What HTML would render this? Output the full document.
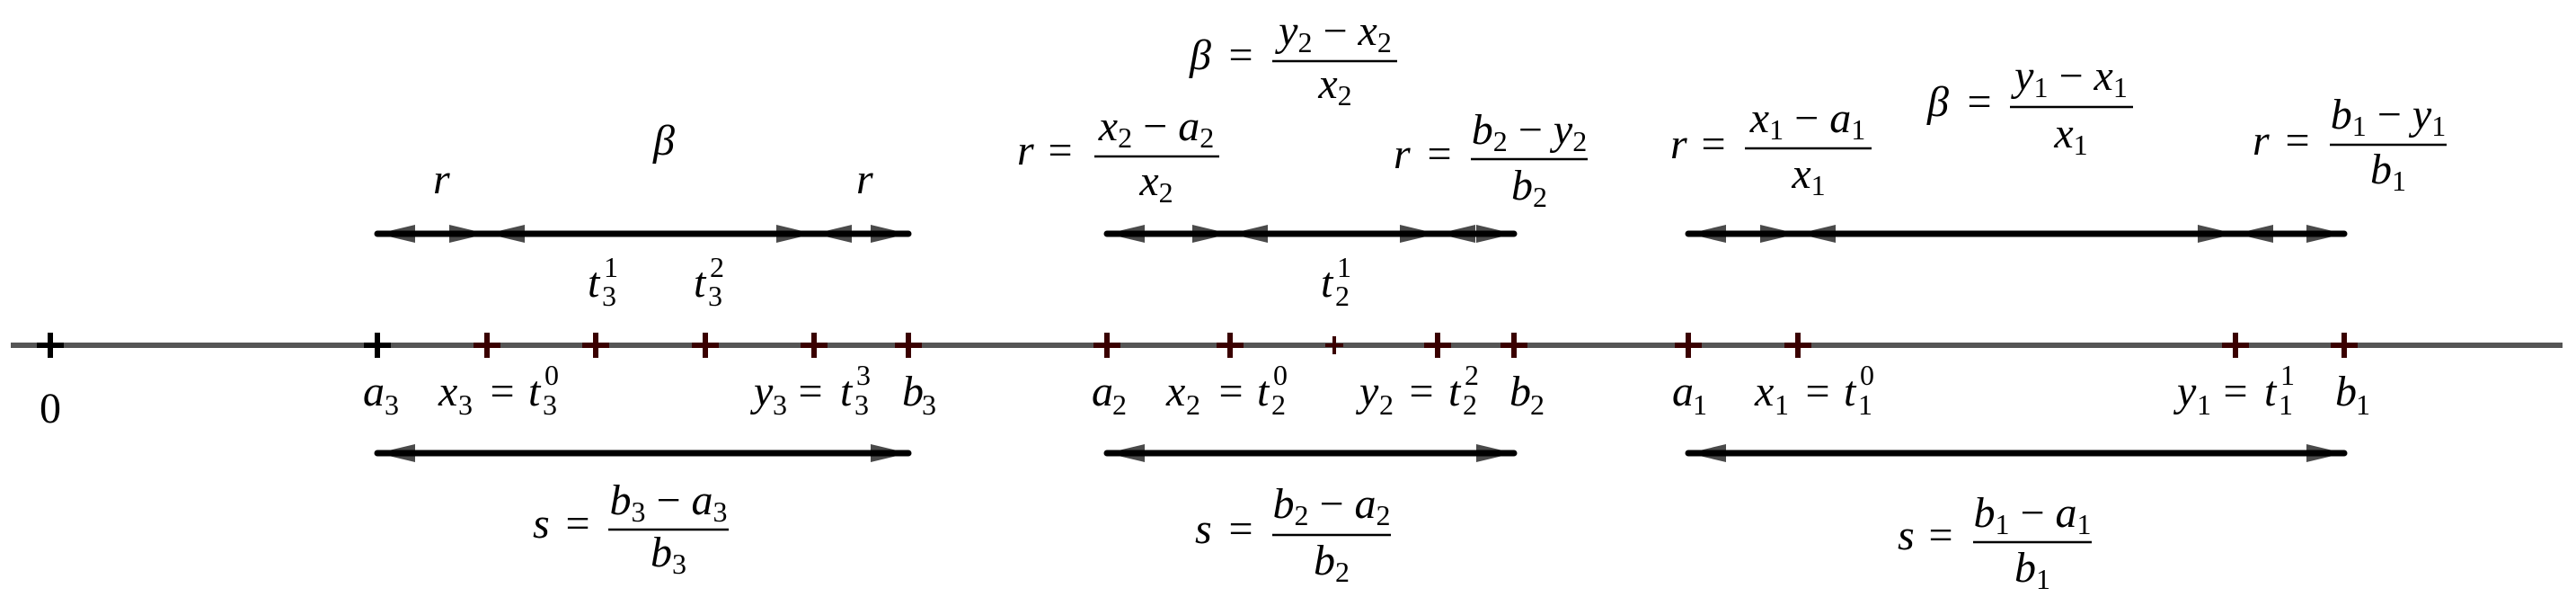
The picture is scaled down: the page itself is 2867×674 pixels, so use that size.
<!DOCTYPE html>
<html><head><meta charset="utf-8"><style>
html,body{margin:0;padding:0;background:#fff}
svg{display:block}
text,tspan{font-family:"Liberation Serif","DejaVu Serif",serif;fill:#000}
.i{font-family:"Liberation Serif","DejaVu Serif",serif;font-style:italic;font-size:48px}
.n{font-family:"Liberation Serif","DejaVu Serif",serif;font-style:normal;font-size:48px}
.s{font-family:"Liberation Serif","DejaVu Serif",serif;font-style:normal;font-size:32px}
.h{fill:#4a4a4a}
.l{stroke:#000;stroke-width:7;stroke-linecap:round}
.tk{stroke:#3a0000;stroke-width:6}
</style></head><body>
<svg width="2867" height="674" viewBox="0 0 2867 674" xmlns="http://www.w3.org/2000/svg">
<line x1="12" y1="384" x2="2852" y2="384" stroke="#555" stroke-width="6"/>
<g stroke="#000" stroke-width="6"><path d="M41 384h30M56 370v28M405 384h30M420 370v28"/></g>
<g class="tk"><path d="M527 384h30M542 370v28M648 384h30M663 370v28M770 384h30M785 370v28M891 384h30M906 370v28M996 384h30M1011 370v28M1217 384h30M1232 370v28M1354 384h30M1369 370v28M1585 384h30M1600 370v28M1670 384h30M1685 370v28M1864 384h30M1879 370v28M1986 384h30M2001 370v28M2473 384h30M2488 370v28M2594 384h30M2609 370v28"/></g>
<path d="M1475 384h20M1485 374v20" stroke="#3a0000" stroke-width="4"/>

<g class="h">
<polygon points="420,260 462,250 462,270"/><polygon points="542,260 500,250 500,270"/>
<polygon points="542,260 584,250 584,270"/><polygon points="906,260 864,250 864,270"/>
<polygon points="906,260 948,250 948,270"/><polygon points="1011,260 969,250 969,270"/>
<polygon points="420,504 462,494 462,514"/><polygon points="1011,504 969,494 969,514"/>
<polygon points="1232,260 1274,250 1274,270"/><polygon points="1369,260 1327,250 1327,270"/>
<polygon points="1369,260 1411,250 1411,270"/><polygon points="1600,260 1558,250 1558,270"/>
<polygon points="1600,260 1642,250 1642,270"/><polygon points="1685,260 1643,250 1643,270"/>
<polygon points="1232,504 1274,494 1274,514"/><polygon points="1685,504 1643,494 1643,514"/>
<polygon points="1879,260 1921,250 1921,270"/><polygon points="2001,260 1959,250 1959,270"/>
<polygon points="2001,260 2043,250 2043,270"/><polygon points="2488,260 2446,250 2446,270"/>
<polygon points="2488,260 2530,250 2530,270"/><polygon points="2609,260 2567,250 2567,270"/>
<polygon points="1879,504 1921,494 1921,514"/><polygon points="2609,504 2567,494 2567,514"/>
</g>
<g class="l">
<line x1="420" y1="260" x2="1011" y2="260"/><line x1="420" y1="504" x2="1011" y2="504"/>
<line x1="1232" y1="260" x2="1685" y2="260"/><line x1="1232" y1="504" x2="1685" y2="504"/>
<line x1="1879" y1="260" x2="2609" y2="260"/><line x1="1879" y1="504" x2="2609" y2="504"/>
</g>

<text class="n" x="56" y="470" text-anchor="middle">0</text>
<text class="i" x="404" y="451">a</text><text class="s" x="428" y="461">3</text>
<text class="i" x="488" y="451">x</text><text class="s" x="510" y="461">3</text><text class="n" x="559" y="451" text-anchor="middle">=</text><text class="i" x="588" y="451">t</text><text class="s" x="604" y="461">3</text><text class="s" x="606" y="428">0</text>
<text class="i" x="839" y="451">y</text><text class="s" x="860" y="461">3</text><text class="n" x="902" y="451" text-anchor="middle">=</text><text class="i" x="935" y="451">t</text><text class="s" x="951" y="461">3</text><text class="s" x="953" y="428">3</text>
<text class="i" x="1004" y="451">b</text><text class="s" x="1026" y="461">3</text>

<text class="i" x="1215" y="451">a</text><text class="s" x="1238" y="461">2</text>
<text class="i" x="1298" y="451">x</text><text class="s" x="1320" y="461">2</text><text class="n" x="1370" y="451" text-anchor="middle">=</text><text class="i" x="1399" y="451">t</text><text class="s" x="1415" y="461">2</text><text class="s" x="1417" y="428">0</text>
<text class="i" x="1513" y="451">y</text><text class="s" x="1535" y="461">2</text><text class="n" x="1582" y="451" text-anchor="middle">=</text><text class="i" x="1612" y="451">t</text><text class="s" x="1628" y="461">2</text><text class="s" x="1630" y="428">2</text>
<text class="i" x="1680" y="451">b</text><text class="s" x="1703" y="461">2</text>

<text class="i" x="1861" y="451">a</text><text class="s" x="1884" y="461">1</text>
<text class="i" x="1953" y="451">x</text><text class="s" x="1975" y="461">1</text><text class="n" x="2023" y="451" text-anchor="middle">=</text><text class="i" x="2052" y="451">t</text><text class="s" x="2068" y="461">1</text><text class="s" x="2070" y="428">0</text>
<text class="i" x="2423" y="451">y</text><text class="s" x="2445" y="461">1</text><text class="n" x="2488" y="451" text-anchor="middle">=</text><text class="i" x="2520" y="451">t</text><text class="s" x="2536" y="461">1</text><text class="s" x="2538" y="428">1</text>
<text class="i" x="2599" y="451">b</text><text class="s" x="2622" y="461">1</text>

<text class="i" x="654" y="330">t</text><text class="s" x="670" y="340">3</text><text class="s" x="672" y="308">1</text>
<text class="i" x="772" y="330">t</text><text class="s" x="788" y="340">3</text><text class="s" x="790" y="308">2</text>
<text class="i" x="1470" y="330">t</text><text class="s" x="1486" y="340">2</text><text class="s" x="1488" y="308">1</text>

<text class="i" x="727" y="172">β</text>
<text class="i" x="482" y="215">r</text>
<text class="i" x="953" y="215">r</text>

<g>
<text class="i" x="593" y="598">s</text><text class="n" x="643" y="598" text-anchor="middle">=</text>
<line x1="677" y1="589" x2="811" y2="589" stroke="#000" stroke-width="2.5"/>
<text class="i" x="744" y="572" text-anchor="middle">b<tspan class="s" dy="8">3</tspan><tspan class="n" dy="-8"> − </tspan>a<tspan class="s" dy="8">3</tspan></text>
<text class="i" x="744" y="630" text-anchor="middle">b<tspan class="s" dy="8">3</tspan></text>
</g>
<g>
<text class="i" x="1324" y="77">β</text><text class="n" x="1381" y="77" text-anchor="middle">=</text>
<line x1="1416" y1="68" x2="1555" y2="68" stroke="#000" stroke-width="2.5"/>
<text class="i" x="1486" y="50" text-anchor="middle">y<tspan class="s" dy="8">2</tspan><tspan class="n" dy="-8"> − </tspan>x<tspan class="s" dy="8">2</tspan></text>
<text class="i" x="1486" y="109" text-anchor="middle">x<tspan class="s" dy="8">2</tspan></text>
</g>
<g>
<text class="i" x="1132" y="183">r</text><text class="n" x="1180" y="183" text-anchor="middle">=</text>
<line x1="1218" y1="174" x2="1357" y2="174" stroke="#000" stroke-width="2.5"/>
<text class="i" x="1287" y="156" text-anchor="middle">x<tspan class="s" dy="8">2</tspan><tspan class="n" dy="-8"> − </tspan>a<tspan class="s" dy="8">2</tspan></text>
<text class="i" x="1287" y="217" text-anchor="middle">x<tspan class="s" dy="8">2</tspan></text>
</g>
<g>
<text class="i" x="1551" y="187">r</text><text class="n" x="1602" y="187" text-anchor="middle">=</text>
<line x1="1637" y1="177" x2="1767" y2="177" stroke="#000" stroke-width="2.5"/>
<text class="i" x="1702" y="160" text-anchor="middle">b<tspan class="s" dy="8">2</tspan><tspan class="n" dy="-8"> − </tspan>y<tspan class="s" dy="8">2</tspan></text>
<text class="i" x="1702" y="222" text-anchor="middle">b<tspan class="s" dy="8">2</tspan></text>
</g>
<g>
<text class="i" x="1330" y="604">s</text><text class="n" x="1381" y="604" text-anchor="middle">=</text>
<line x1="1416" y1="595" x2="1548" y2="595" stroke="#000" stroke-width="2.5"/>
<text class="i" x="1482" y="576" text-anchor="middle">b<tspan class="s" dy="8">2</tspan><tspan class="n" dy="-8"> − </tspan>a<tspan class="s" dy="8">2</tspan></text>
<text class="i" x="1482" y="639" text-anchor="middle">b<tspan class="s" dy="8">2</tspan></text>
</g>
<g>
<text class="i" x="1859" y="176">r</text><text class="n" x="1907" y="176" text-anchor="middle">=</text>
<line x1="1942" y1="165" x2="2083" y2="165" stroke="#000" stroke-width="2.5"/>
<text class="i" x="2012" y="147" text-anchor="middle">x<tspan class="s" dy="8">1</tspan><tspan class="n" dy="-8"> − </tspan>a<tspan class="s" dy="8">1</tspan></text>
<text class="i" x="2013" y="209" text-anchor="middle">x<tspan class="s" dy="8">1</tspan></text>
</g>
<g>
<text class="i" x="2145" y="129">β</text><text class="n" x="2203" y="129" text-anchor="middle">=</text>
<line x1="2237" y1="119" x2="2374" y2="119" stroke="#000" stroke-width="2.5"/>
<text class="i" x="2305" y="100" text-anchor="middle">y<tspan class="s" dy="8">1</tspan><tspan class="n" dy="-8"> − </tspan>x<tspan class="s" dy="8">1</tspan></text>
<text class="i" x="2305" y="164" text-anchor="middle">x<tspan class="s" dy="8">1</tspan></text>
</g>
<g>
<text class="i" x="2507" y="172">r</text><text class="n" x="2557" y="172" text-anchor="middle">=</text>
<line x1="2593" y1="161" x2="2723" y2="161" stroke="#000" stroke-width="2.5"/>
<text class="i" x="2658" y="143" text-anchor="middle">b<tspan class="s" dy="8">1</tspan><tspan class="n" dy="-8"> − </tspan>y<tspan class="s" dy="8">1</tspan></text>
<text class="i" x="2658" y="204" text-anchor="middle">b<tspan class="s" dy="8">1</tspan></text>
</g>
<g>
<text class="i" x="2112" y="611">s</text><text class="n" x="2160" y="611" text-anchor="middle">=</text>
<line x1="2196" y1="603" x2="2328" y2="603" stroke="#000" stroke-width="2.5"/>
<text class="i" x="2262" y="586" text-anchor="middle">b<tspan class="s" dy="8">1</tspan><tspan class="n" dy="-8"> − </tspan>a<tspan class="s" dy="8">1</tspan></text>
<text class="i" x="2262" y="647" text-anchor="middle">b<tspan class="s" dy="8">1</tspan></text>
</g>
</svg>
</body></html>
